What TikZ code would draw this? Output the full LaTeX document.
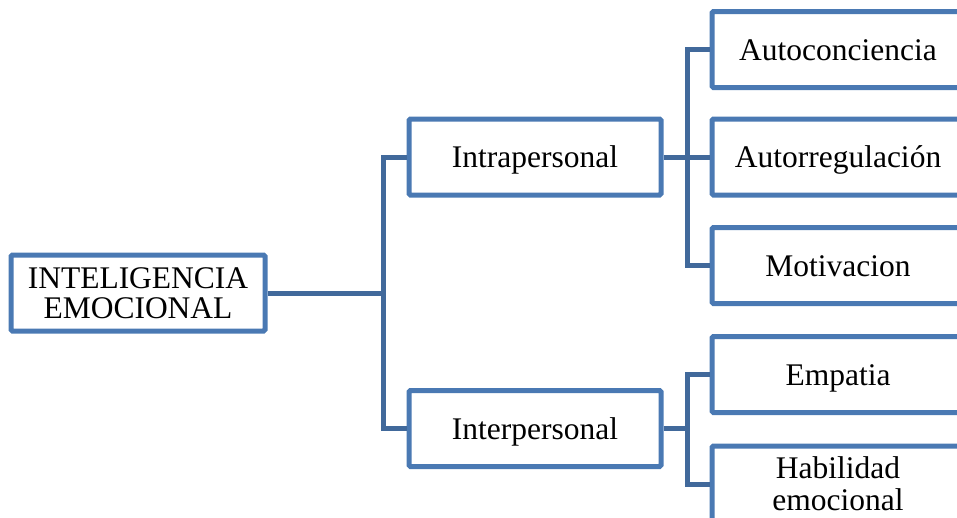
\documentclass[tikz,border=0pt]{standalone}
\usepackage{fontspec}
\setmainfont{Liberation Serif}
\definecolor{boxblue}{HTML}{4A79B3}
\definecolor{linkblue}{HTML}{41699B}
\begin{document}
\begin{tikzpicture}[x=1pt,y=-1pt,
  box/.style={draw=boxblue, line width=5pt, fill=white, rounded corners=1.5pt,
    minimum width=252pt, minimum height=76pt, inner sep=0pt, align=center,
    font=\fontsize{31.5}{30}\selectfont},
  onebox/.style={box, text height=28.1pt, text depth=6.8pt},
  link/.style={draw=linkblue, line width=5pt}]
\useasboundingbox (0,0) rectangle (957,517);
\clip (0,0) rectangle (957,517);
\node[box, minimum width=254pt] (root) at (138,293) {INTELIGENCIA\\EMOCIONAL};
\node[onebox] (intra) at (535,157) {Intrapersonal};
\node[onebox] (inter) at (535,428.5) {Interpersonal};
\node[onebox] (l1) at (838,49.5) {Autoconciencia};
\node[onebox] (l2) at (838,157) {Autorregulación};
\node[onebox] (l3) at (838,265.5) {Motivacion};
\node[onebox] (l4) at (838,374.5) {Empatia};
\node[box, font=\fontsize{31.5}{32}\selectfont] (l5) at (838,484) {Habilidad\\emocional};
\coordinate (j1) at (383,293);
\coordinate (j2) at (687,157);
\coordinate (j3) at (687,428.5);
\draw[link] (root.east) -- (j1);
\draw[link] (intra.west) -| (j1);
\draw[link] (inter.west) -| (j1);
\draw[link] (intra.east) -- (j2);
\draw[link] (l1.west) -| (j2);
\draw[link] (l2.west) -- (j2);
\draw[link] (l3.west) -| (j2);
\draw[link] (inter.east) -- (j3);
\draw[link] (l4.west) -| (j3);
\draw[link] (l5.west) -| (j3);
\end{tikzpicture}
\end{document}
